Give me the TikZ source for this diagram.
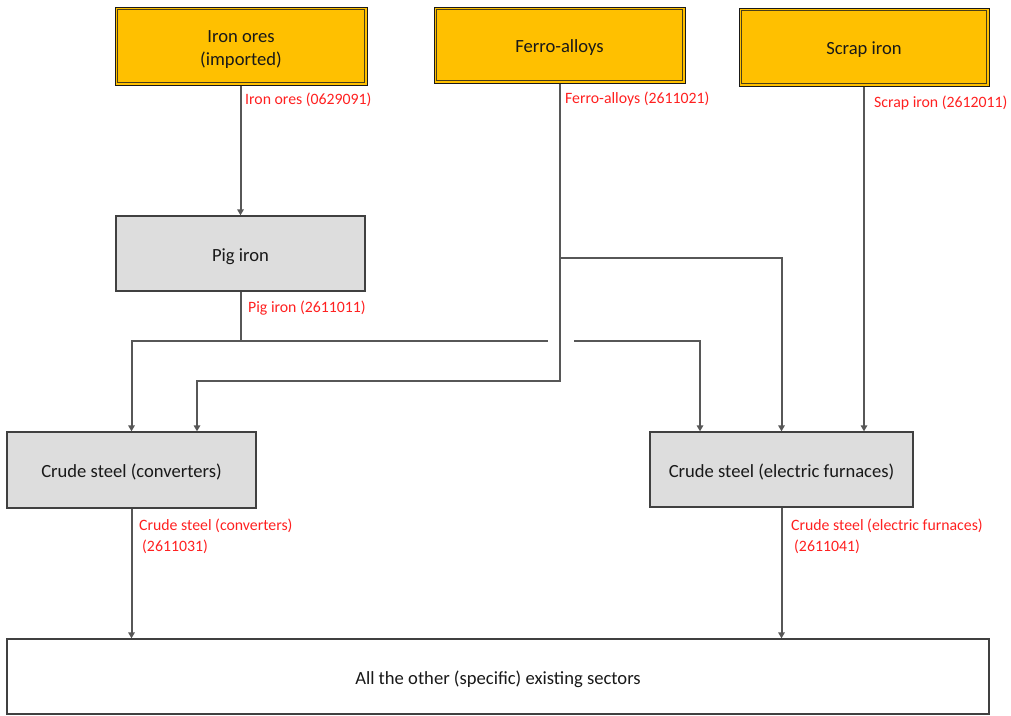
\documentclass[tikz,border=0pt]{standalone}
\usepackage{fontspec}
\setmainfont{Carlito}
\usetikzlibrary{arrows.meta}
\definecolor{supply}{HTML}{FFC000}
\definecolor{stage}{HTML}{DDDDDD}
\definecolor{wire}{HTML}{575757}
\definecolor{code}{HTML}{FF2020}
\definecolor{rim}{HTML}{4A3F1A}
% box caption, set slightly below the geometric centre (extents kept)
\newcommand\boxcaption[1]{\raisebox{-3pt}[\height][\depth]{\begin{tabular}{@{}c@{}}#1\end{tabular}}}
\begin{document}
\begin{tikzpicture}[x=1pt,y=-1pt,
  box/.style={rectangle, inner sep=0pt, text=black!90,
    font=\fontsize{18.6}{23}\selectfont},
  source/.style={box, fill=supply, draw=black!90, line width=1pt},
  innerrim/.style={draw=rim, line width=1pt},
  stagebox/.style={box, fill=stage, draw=black!75, line width=1.3pt},
  sink/.style={box, fill=white, draw=black!75, line width=1.3pt},
  link/.style={draw=wire, line width=2pt},
  conn/.style={link, -{Triangle[length=6pt,width=6.5pt]}},
  codelabel/.style={text=code, inner sep=0pt, anchor=west, align=left,
    font=\fontsize{15.8}{21}\selectfont}]
  \useasboundingbox (0,0) rectangle (1011,715);

  % supply boxes, each with a second inner rim
  \node[source, minimum width=252pt, minimum height=78pt] (iron)  at (241,46)   {\boxcaption{Iron ores\\(imported)}};
  \node[source, minimum width=251pt, minimum height=76pt] (ferro) at (559.5,45) {\boxcaption{Ferro-alloys}};
  \node[source, minimum width=250pt, minimum height=78pt] (scrap) at (864,47)   {\boxcaption{Scrap iron}};
  \foreach \b in {iron,ferro,scrap}
    \draw[innerrim] ([shift={(2.6pt,-2.6pt)}]\b.north west) rectangle ([shift={(-2.6pt,2.6pt)}]\b.south east);

  % production stages
  \node[stagebox, minimum width=249pt, minimum height=75pt] (pig)  at (240.5,253.5) {\boxcaption{Pig iron}};
  \node[stagebox, minimum width=249pt, minimum height=76pt] (conv) at (131.5,470)   {\boxcaption{Crude steel (converters)}};
  \node[stagebox, minimum width=263pt, minimum height=75pt] (elec) at (781.5,469.5) {\boxcaption{Crude steel (electric furnaces)}};

  % consuming sectors
  \node[sink, minimum width=982pt, minimum height=75pt] (sectors) at (498,676.5) {\boxcaption{All the other (specific) existing sectors}};

  % routing points
  \coordinate (pigjoin) at (240.5,341);
  \coordinate (hopL) at (548,341);
  \coordinate (hopR) at (574,341);
  \coordinate (fsplit) at (559.5,258);
  \coordinate (fbend) at (559.5,381);

  % flows
  \draw[conn] (iron.south -| pig.north) -- (pig.north);
  \draw[conn] (pig.south) -- (pigjoin) -| (conv.north);
  \draw[link] (pigjoin) -- (hopL);
  \draw[conn] (hopR) -| ([xshift=-81.5pt]elec.north);
  \draw[conn] (ferro.south) -- (fbend) -| ([xshift=65.5pt]conv.north);
  \draw[conn] (fsplit) -| (elec.north);
  \draw[conn] (scrap.south) -- (scrap.south |- elec.north);
  \draw[conn] (conv.south) -- (conv.south |- sectors.north);
  \draw[conn] (elec.south) -- (elec.south |- sectors.north);

  % product codes
  \node[codelabel] (lIron)  at (245,100) {Iron ores (0629091)};
  \node[codelabel] (lFerro) at (565,99)  {Ferro-alloys (2611021)};
  \node[codelabel] (lScrap) at (874,103) {Scrap iron (2612011)};
  \node[codelabel] (lPig)   at (248,308) {Pig iron (2611011)};
  \node[codelabel] (lConv)  at (139,536.5) {Crude steel (converters)\\\hspace*{3pt}(2611031)};
  \node[codelabel] (lElec)  at (791,536.5) {Crude steel (electric furnaces)\\\hspace*{3pt}(2611041)};
\end{tikzpicture}
\end{document}
